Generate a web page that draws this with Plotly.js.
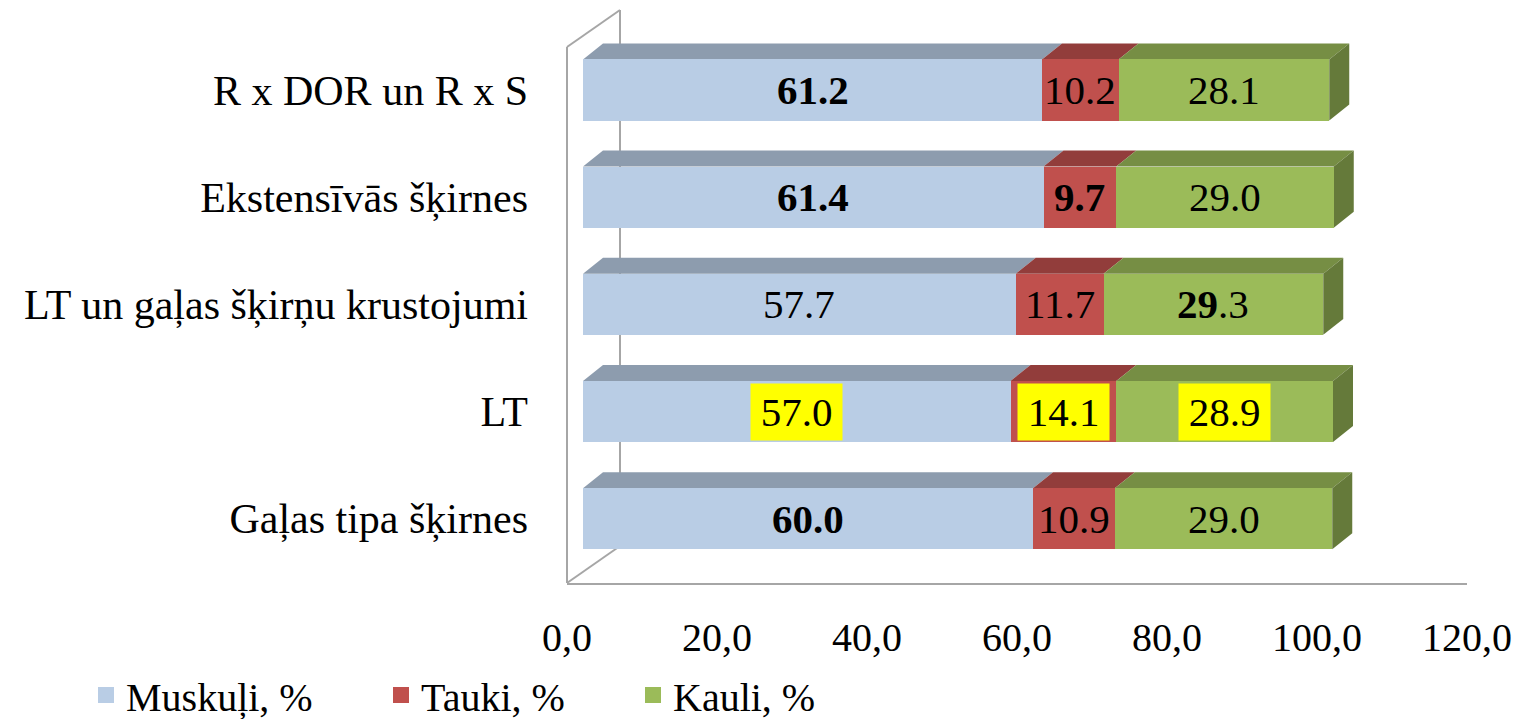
<!DOCTYPE html>
<html>
<head>
<meta charset="utf-8">
<script src="https://cdn.plot.ly/plotly-3.0.1.min.js"></script>
<style>html,body{margin:0;padding:0;background:#fff;}#chart{width:1524px;height:719px;}</style>
</head>
<body>
<div id="chart"></div>
<script>
// ---- data (bottom to top) ----
var categories = ["Gaļas tipa šķirnes", "LT", "LT un gaļas šķirņu krustojumi", "Ekstensīvās šķirnes", "R x DOR un R x S"];
var muskuli = [60.0, 57.0, 57.7, 61.4, 61.2];
var tauki   = [10.9, 14.1, 11.7, 9.7, 10.2];
var kauli   = [29.0, 28.9, 29.3, 29.0, 28.1];
var muskuliLabels = ["<b>60.0</b>", "57.0", "57.7", "<b>61.4</b>", "<b>61.2</b>"];
var taukiLabels   = ["10.9", "14.1", "11.7", "<b>9.7</b>", "10.2"];
var kauliLabels   = ["29.0", "28.9", "<b>29</b>.3", "29.0", "28.1"];
var highlighted   = [false, true, false, false, false];
var seriesNames = ["Muskuļi, %", "Tauki, %", "Kauli, %"];
var xTicks = [0, 20, 40, 60, 80, 100, 120];

// ---- styling ----
var FONT = "Liberation Serif";
var frontColors = ["#B9CDE5", "#C0504D", "#9BBB59"];
var topColors   = ["#8D9CAE", "#923D3B", "#768E44"];
var sideColor   = "#657A3A";
var W = 1524, H = 719;
var mL = 567, mR = 41, mT = 1, mB = 135.6;
var plotW = W - mL - mR;            // 916
var axisW = 900;                    // tick axis width
var shift = 16;                     // bar front offset in px
var yRange = [-0.6, 4.83];
var plotH = H - mT - mB;
var pxPerX = axisW / 120;
var pxPerY = plotH / (yRange[1] - yRange[0]);
var barW = 0.57;
var depthX = 20 / pxPerX, depthY = 16 / pxPerY;   // bar depth in data units
var legendX = [86, 381, 633];

var series = [muskuli, tauki, kauli];
var labels = [muskuliLabels, taukiLabels, kauliLabels];
var yIdx = categories.map(function (c, i) { return i; });
var legendIds = ["legend", "legend2", "legend3"];

var traces = series.map(function (vals, s) {
  return {
    type: "bar", orientation: "h", name: seriesNames[s],
    x: vals, y: yIdx, width: barW,
    xaxis: "x2", yaxis: "y", showlegend: false,
    marker: { color: frontColors[s], line: { width: 0 } },
    hoverinfo: "skip"
  };
});
// legend entries (no data, symbol only)
series.forEach(function (vals, s) {
  traces.push({
    type: "scatter", mode: "markers", name: seriesNames[s],
    x: [null], y: [null], xaxis: "x", yaxis: "y",
    legend: legendIds[s], showlegend: true,
    marker: { symbol: "square", size: 16, color: frontColors[s] },
    hoverinfo: "skip"
  });
});

var shapes = [];
// back wall / floor (decoration, in paper units)
var lineStyle = { color: "#A6A6A6", width: 2 };
var wdx = 53 / plotW, wdy = 37 / plotH;
var wallTop = (H - mB - 47) / plotH;
shapes.push({ type: "line", xref: "paper", yref: "paper", x0: 0, x1: 0, y0: 0, y1: wallTop, line: lineStyle, layer: "below" });
shapes.push({ type: "line", xref: "paper", yref: "paper", x0: wdx, x1: wdx, y0: wdy, y1: wallTop + wdy, line: lineStyle, layer: "below" });
shapes.push({ type: "line", xref: "paper", yref: "paper", x0: 0, x1: wdx, y0: wallTop, y1: wallTop + wdy, line: lineStyle, layer: "below" });
shapes.push({ type: "line", xref: "paper", yref: "paper", x0: 0, x1: wdx, y0: 0, y1: wdy, line: lineStyle, layer: "below" });

// 3D faces of bars, computed from data
var annotations = [];
categories.forEach(function (c, i) {
  var base = 0;
  var yt = i + barW / 2, yb = i - barW / 2;
  series.forEach(function (vals, s) {
    var x0 = base, x1 = base + vals[i];
    shapes.push({
      type: "path", xref: "x2", yref: "y", layer: "below",
      path: "M" + x0 + "," + yt + " L" + x1 + "," + yt + " L" + (x1 + depthX) + "," + (yt + depthY) +
            " L" + (x0 + depthX) + "," + (yt + depthY) + " Z",
      fillcolor: topColors[s], line: { width: 0 }
    });
    if (s === series.length - 1) {
      shapes.push({
        type: "path", xref: "x2", yref: "y", layer: "below",
        path: "M" + x1 + "," + yb + " L" + x1 + "," + yt + " L" + (x1 + depthX) + "," + (yt + depthY) +
              " L" + (x1 + depthX) + "," + (yb + depthY) + " Z",
        fillcolor: sideColor, line: { width: 0 }
      });
    }
    var ann = {
      xref: "x2", yref: "y", x: base + vals[i] / 2, y: i,
      text: labels[s][i], showarrow: false,
      font: { family: FONT, size: 41, color: "#000" }
    };
    if (highlighted[i]) {
      ann.bgcolor = "#FFFF00"; ann.width = 87; ann.height = 52; ann.borderpad = 2;
    }
    annotations.push(ann);
    base = x1;
  });
});

function legendAt(px) {
  return {
    orientation: "h", xref: "container", yref: "container",
    x: px / W, xanchor: "left", y: 1 - 695 / H, yanchor: "middle",
    font: { family: FONT, size: 40, color: "#000" },
    bgcolor: "rgba(0,0,0,0)", borderwidth: 0,
    itemclick: false, itemdoubleclick: false
  };
}

var layout = {
  width: W, height: H,
  margin: { l: mL, r: mR, t: mT, b: mB },
  paper_bgcolor: "#fff", plot_bgcolor: "rgba(0,0,0,0)",
  barmode: "stack",
  separators: ",.",
  font: { family: FONT, size: 40, color: "#000" },
  showlegend: true,
  legend: legendAt(legendX[0]),
  legend2: legendAt(legendX[1]),
  legend3: legendAt(legendX[2]),
  xaxis: {
    domain: [0, axisW / plotW], range: [0, 120], anchor: "y",
    tickvals: xTicks, tickformat: ".1f",
    showgrid: false, zeroline: false, showline: true, linecolor: "#A6A6A6", linewidth: 2,
    ticks: "", ticklabelstandoff: 18,
    tickfont: { family: FONT, size: 40, color: "#000" }
  },
  xaxis2: {
    domain: [shift / plotW, 1], range: [0, 120], anchor: "y",
    visible: false, showgrid: false, zeroline: false
  },
  yaxis: {
    range: yRange, tickvals: yIdx, ticktext: categories,
    showgrid: false, zeroline: false, showline: false, ticks: "",
    ticklabelstandoff: 38,
    tickfont: { family: FONT, size: 42, color: "#000" }
  },
  shapes: shapes,
  annotations: annotations,
  hovermode: false
};

Plotly.newPlot("chart", traces, layout, { displayModeBar: false, staticPlot: true });
</script>
</body>
</html>
